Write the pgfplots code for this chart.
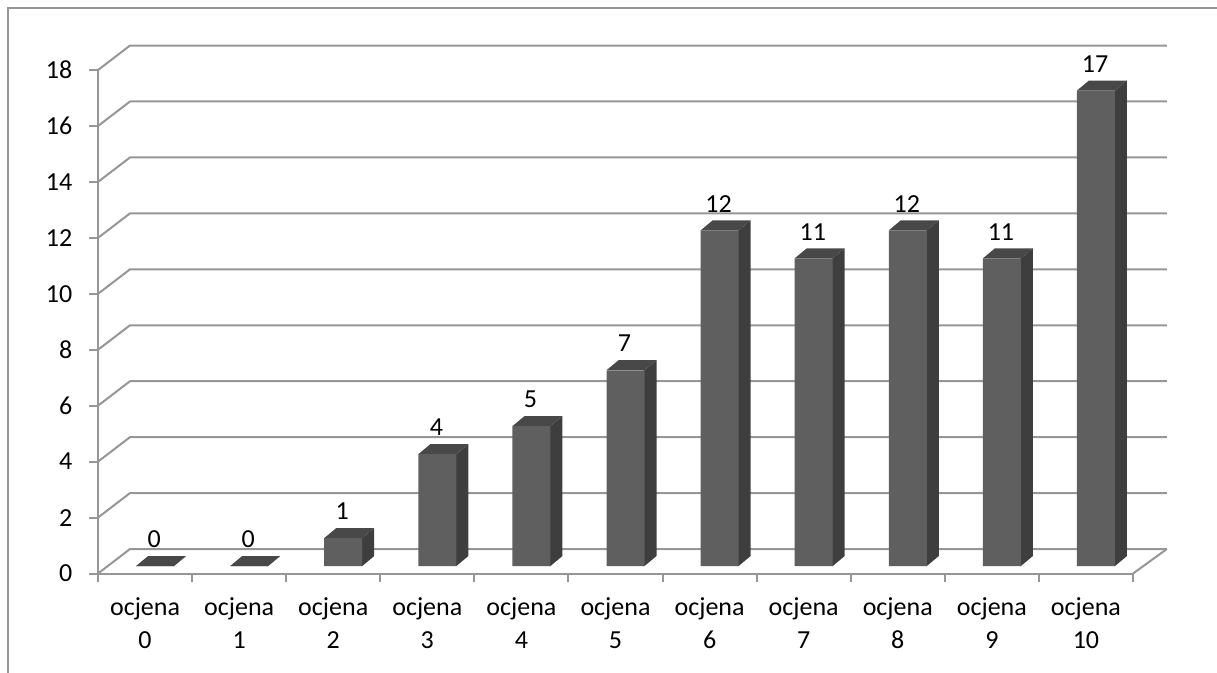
\documentclass[border=0pt]{standalone}
\usepackage{pgfplots}
\usepackage{pgfplotstable}
\usepackage{fontspec}
\pgfplotsset{compat=1.18}
\setmainfont{Carlito}
\definecolor{barfront}{HTML}{5F5F5F}
\definecolor{barside}{HTML}{3E3E3E}
\definecolor{bartop}{HTML}{484848}
\definecolor{gridc}{HTML}{969696}
\pgfplotstableread{
idx val
0 0
1 0
2 1
3 4
4 5
5 7
6 12
7 11
8 12
9 11
10 17
}\grades
% back wall / floor offset in data units: 32px -> 0.34, 24.5px -> 0.876
\newcommand\gridrow[1]{%
  \edef\tmp{\noexpand\addplot[gridc,line width=1.5pt,line join=round] coordinates {(-0.5,#1) (-0.16,\the\numexpr#1\relax.876) (10.86,\the\numexpr#1\relax.876)};}\tmp}
% depth of one bar: side and top faces
\newcommand\barsides[2]{%
  \pgfmathsetmacro\xa{#1+0.1063-0.2019}%
  \pgfmathsetmacro\xb{#1+0.1063+0.2019}%
  \pgfmathsetmacro\xs{\xb-0.01}%
  \pgfmathsetmacro\xc{\xb+0.1275}%
  \pgfmathsetmacro\xd{\xa+0.1275}%
  \pgfmathsetmacro\ya{0.268}%
  \pgfmathsetmacro\yb{#2+0.268}%
  \pgfmathsetmacro\yc{\yb+0.3575}%
  \pgfmathsetmacro\yd{\ya+0.3575}%
  \edef\tmp{\noexpand\addplot[fill=barside,draw=none] coordinates {(\xs,\ya) (\xb,\ya) (\xc,\yd) (\xc,\yc) (\xb,\yb) (\xs,\yb)} -- cycle;
    \noexpand\addplot[fill=bartop,draw=none] coordinates {(\xa,\yb) (\xb,\yb) (\xc,\yc) (\xd,\yc)} -- cycle;}\tmp}
\begin{document}
\begin{tikzpicture}[x=0.75pt,y=0.75pt]
\useasboundingbox (0,0) rectangle (1217,673);
\draw[gridc,line width=1.5pt] (7.5,0) -- (7.5,665) -- (1217,665);
\begin{axis}[
  at={(73.5pt,74.6pt)}, anchor=south west,
  scale only axis, width=776.25pt, height=377.6pt,
  xmin=-0.5, xmax=10.5, ymin=0, ymax=18,
  clip=false,
  axis y line*=left, axis x line*=bottom,
  axis line style={gridc,line width=1.5pt,-},
  every tick/.style={gridc,line width=1.5pt},
  tick align=outside,
  major tick length=6.5pt,
  minor tick length=6.5pt,
  xtick={0,...,10},
  major x tick style={draw=none},
  minor xtick={-0.5,0.5,...,10.5},
  xticklabels={{ocjena\\0},{ocjena\\1},{ocjena\\2},{ocjena\\3},{ocjena\\4},{ocjena\\5},{ocjena\\6},{ocjena\\7},{ocjena\\8},{ocjena\\9},{ocjena\\10}},
  xticklabel style={align=center,font=\fontsize{19.5}{25}\selectfont,yshift=-7.8pt},
  ytick={0,2,...,18},
  yticklabel style={font=\fontsize{19.5}{25}\selectfont,xshift=-9.2pt},
  /pgf/number format/assume math mode=true,
]
\gridrow{0}\gridrow{2}\gridrow{4}\gridrow{6}\gridrow{8}\gridrow{10}\gridrow{12}\gridrow{14}\gridrow{16}\gridrow{18}
\addplot[gridc,line width=1.5pt,forget plot] coordinates {(10.5,0) (10.86,0.876)};
\barsides{0}{0}\barsides{1}{0}\barsides{2}{1}\barsides{3}{4}\barsides{4}{5}\barsides{5}{7}\barsides{6}{12}\barsides{7}{11}\barsides{8}{12}\barsides{9}{11}\barsides{10}{17}
\addplot[ybar,bar width=28.5pt,bar shift=7.5pt,yshift=5.6pt,fill=barfront,draw=none,
  nodes near coords,
  every node near coord/.append style={font=\fontsize{19.5}{25}\selectfont,text=black,anchor=center,xshift=6.8pt,yshift=20pt,/pgf/number format/assume math mode=true}]
  table[x=idx,y=val] {\grades};
\end{axis}
\end{tikzpicture}
\end{document}
